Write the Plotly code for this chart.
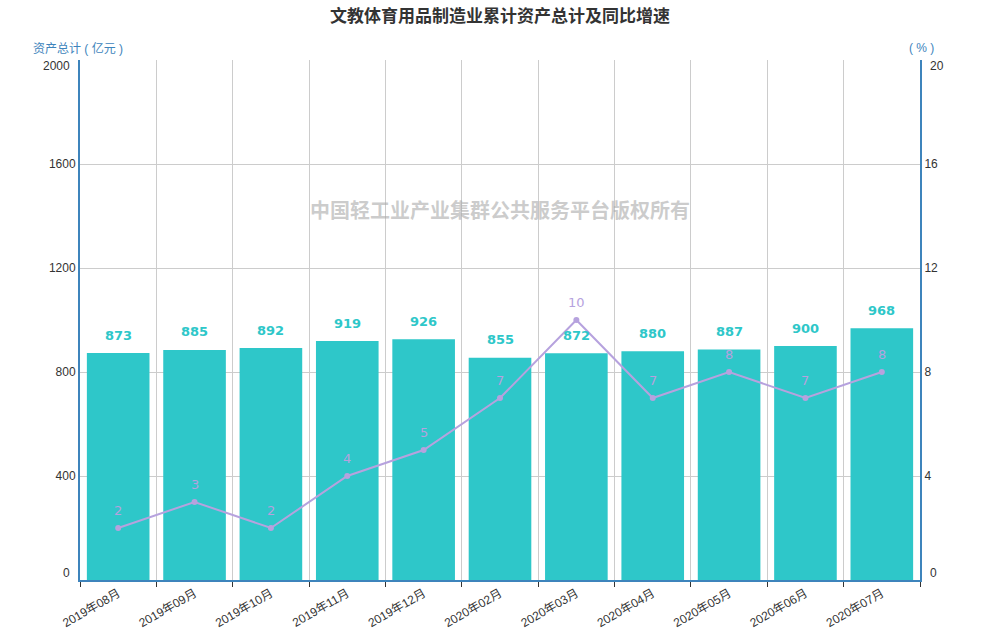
import plotly.graph_objects as go

months = ['2019年08月', '2019年09月', '2019年10月', '2019年11月', '2019年12月',
          '2020年02月', '2020年03月', '2020年04月', '2020年05月', '2020年06月', '2020年07月']
assets = [873, 885, 892, 919, 926, 855, 872, 880, 887, 900, 968]
growth = [2, 3, 2, 4, 5, 7, 10, 7, 8, 7, 8]
left_ticks = [0, 400, 800, 1200, 1600, 2000]
right_ticks = [0, 4, 8, 12, 16, 20]

bar_color = '#2ec7c9'
line_color = '#b6a2de'
axis_color = '#3e84bc'
font_family = 'Liberation Sans, Noto Sans CJK SC, sans-serif'
tick_font = dict(size=12, color='#333', family=font_family)

fig = go.Figure()

fig.add_trace(go.Bar(
    x=months, y=assets,
    marker=dict(color=bar_color, line=dict(width=0)),
    name='资产总计',
))

fig.add_trace(go.Scatter(
    x=months, y=growth, yaxis='y2',
    mode='lines+markers',
    line=dict(color=line_color, width=2),
    marker=dict(color=line_color, size=6),
    name='同比增速',
))

annotations = []
# bar value labels
for m, v in zip(months, assets):
    annotations.append(dict(x=m, y=v, xref='x', yref='y', text='<b>%d</b>' % v,
                            showarrow=False, yshift=18,
                            font=dict(size=13, color=bar_color, family='DejaVu Sans')))
# growth labels
for m, v in zip(months, growth):
    annotations.append(dict(x=m, y=v, xref='x', yref='y2', text=str(v),
                            showarrow=False, yshift=18,
                            font=dict(size=13, color=line_color, family='DejaVu Sans')))

# first / last tick labels are nudged inside the plot, like the original
for ticks, yref, xpos, anchor, dx in [(left_ticks, 'y', 0, 'right', -8),
                                      (right_ticks, 'y2', 1, 'left', 8)]:
    for t, shift in [(ticks[0], 7), (ticks[-1], -6)]:
        annotations.append(dict(x=xpos, y=t, xref='paper', yref=yref, text=str(t),
                                showarrow=False, xanchor=anchor, xshift=dx, yshift=shift,
                                font=tick_font))

def tick_text(ticks):
    return [''] + [str(t) for t in ticks[1:-1]] + ['']

annotations += [
    dict(text='资产总计 ( 亿元 )', xref='paper', yref='paper', x=0, y=1.0,
         xanchor='center', yanchor='middle', yshift=12, xshift=-2, showarrow=False,
         font=dict(size=12, color=axis_color)),
    dict(text='( % )', xref='paper', yref='paper', x=1, y=1.0,
         xanchor='center', yanchor='middle', yshift=12, xshift=1, showarrow=False,
         font=dict(size=12, color=axis_color)),
    dict(text='<b>中国轻工业产业集群公共服务平台版权所有</b>', xref='paper', yref='paper',
         x=0.5, y=0.712, xanchor='center', yanchor='middle', showarrow=False,
         font=dict(size=20, color='rgba(170,170,170,0.6)', family='Noto Sans CJK SC')),
]

fig.update_layout(
    width=1000, height=640,
    margin=dict(l=80, r=80, t=60, b=60),
    plot_bgcolor='white', paper_bgcolor='white',
    showlegend=False,
    bargap=0.18,
    font=dict(family=font_family, color='#333', size=12),
    title=dict(text='<b>文教体育用品制造业累计资产总计及同比增速</b>', x=0.5, y=0.984,
               xanchor='center', yanchor='top',
               font=dict(size=17, color='#333', family='Noto Sans CJK SC')),
    xaxis=dict(
        type='category', range=[-0.5, len(months) - 0.5],
        tickson='boundaries', ticks='outside', ticklen=5,
        tickcolor='#333', tickangle=-30, showgrid=True, gridcolor='#cccccc',
        showline=True, linecolor=axis_color, linewidth=2, automargin=False,
        tickfont=tick_font,
    ),
    yaxis=dict(
        range=[0, 2000], tickvals=left_ticks, ticktext=tick_text(left_ticks),
        showgrid=True, gridcolor='#cccccc', zeroline=False, automargin=False,
        showline=True, linecolor=axis_color, linewidth=2,
        ticks='', tickfont=tick_font,
    ),
    yaxis2=dict(
        range=[0, 20], tickvals=right_ticks, ticktext=tick_text(right_ticks),
        overlaying='y', side='right', showgrid=False, zeroline=False, automargin=False,
        showline=True, linecolor=axis_color, linewidth=2,
        ticks='', tickfont=tick_font,
    ),
    annotations=annotations,
)

# drop the default body margin so the figure sits at the window's corner
fig.write_html('out.html', config={'displayModeBar': False},
               post_script="document.body.style.margin='0';")
